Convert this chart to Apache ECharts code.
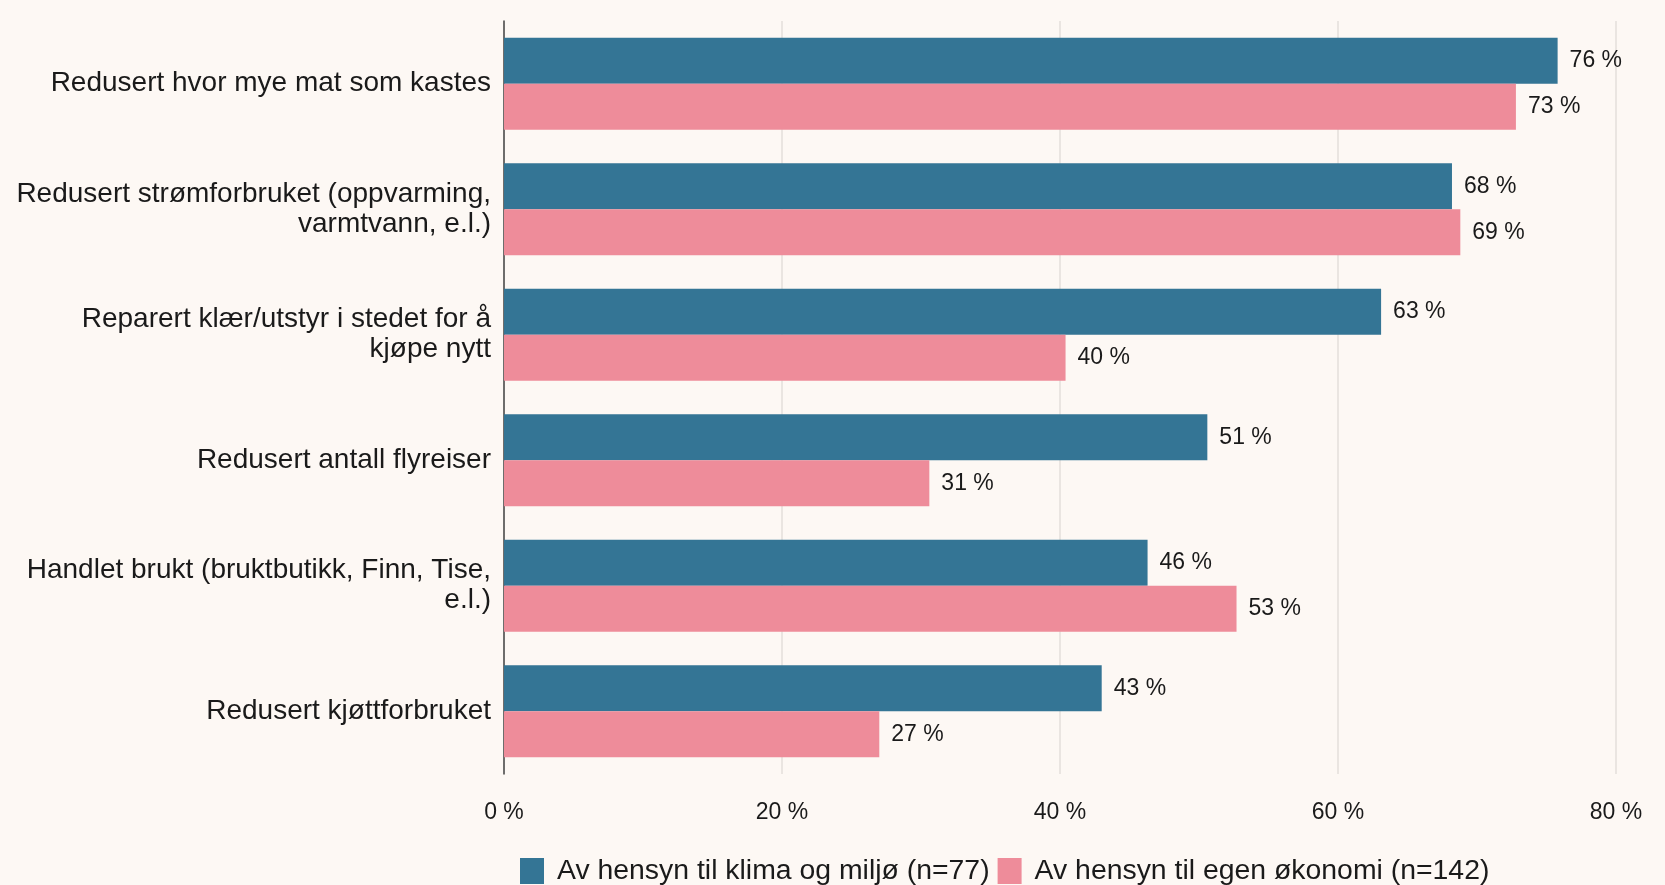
<!DOCTYPE html>
<html>
<head>
<meta charset="utf-8">
<script src="https://cdn.jsdelivr.net/npm/echarts@6/dist/echarts.min.js"></script>
<style>
html,body{margin:0;padding:0;background:#fdf8f4;}
#main{width:1665px;height:885px;}
</style>
</head>
<body>
<div id="main"></div>
<script>
//kategorier (ovenfra og ned)
var categories = [
	'Redusert hvor mye mat som kastes',
	'Redusert strømforbruket (oppvarming,\nvarmtvann, e.l.)',
	'Reparert klær/utstyr i stedet for å\nkjøpe nytt',
	'Redusert antall flyreiser',
	'Handlet brukt (bruktbutikk, Finn, Tise,\ne.l.)',
	'Redusert kjøttforbruket'
];
var seriesNames = ['Av hensyn til klima og miljø (n=77)', 'Av hensyn til egen økonomi (n=142)'];
var klima   = [75.8, 68.2, 63.1, 50.6, 46.3, 43.0];
var okonomi = [72.8, 68.8, 40.4, 30.6, 52.7, 27.0];
var xTicks  = [0, 20, 40, 60, 80];

var fontName = '"Liberation Sans", Arial, sans-serif';
var myChart = echarts.init(document.getElementById('main'));

var labelStyle = {
	show: true, position: 'right', distance: 12,
	fontFamily: fontName, fontSize: 23, color: '#1a1a1a',
	formatter: function(p){ return Math.round(p.value) + ' %'; }
};

var option = {
	backgroundColor: '#fdf8f4',
	animation: false,
	legend: {
		left: 515, top: 852, icon: 'rect',
		itemWidth: 24, itemHeight: 26, itemGap: 8,
		textStyle: {fontFamily: fontName, fontSize: 28.4, color: '#1a1a1a', padding: [0, 0, 0, 8]},
		data: seriesNames
	},
	grid: {left: 504, right: 49, top: 21, bottom: 111, containLabel: false},
	xAxis: {
		type: 'value', min: xTicks[0], max: xTicks[xTicks.length - 1], interval: 20,
		axisLine: {show: false}, axisTick: {show: false},
		axisLabel: {margin: 27, fontFamily: fontName, fontSize: 23, color: '#1a1a1a',
			formatter: function(v){ return v + ' %'; }},
		splitLine: {show: true, lineStyle: {color: '#e3dfdb', width: 1.5}}
	},
	yAxis: {
		type: 'category', inverse: true, data: categories,
		axisLine: {show: true, lineStyle: {color: '#444', width: 1.5}},
		axisTick: {show: false},
		axisLabel: {margin: 13, fontFamily: fontName, fontSize: 28, color: '#1a1a1a',
			lineHeight: 30, align: 'right', padding: [8, 0, 0, 0]},
		splitLine: {show: false}
	},
	series: [
		{name: seriesNames[0], type: 'bar', data: klima, barWidth: 46, barGap: '0%',
			itemStyle: {color: '#347595'}, label: labelStyle},
		{name: seriesNames[1], type: 'bar', data: okonomi, barWidth: 46, barGap: '0%',
			itemStyle: {color: '#ee8c9a'}, label: labelStyle}
	]
};
myChart.setOption(option);
</script>
</body>
</html>
